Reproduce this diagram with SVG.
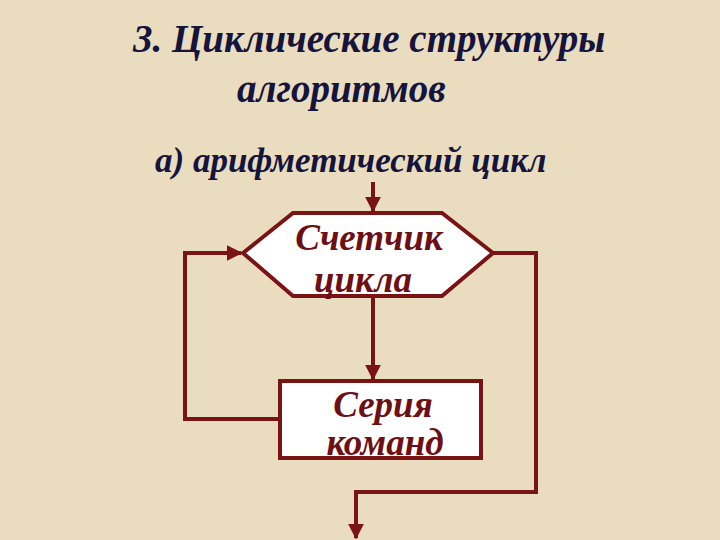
<svg xmlns="http://www.w3.org/2000/svg" width="720" height="540" viewBox="0 0 720 540">
<defs>
<style>
.t{font-family:"Liberation Serif",serif;font-weight:bold;font-style:italic;fill:#14143c}
.n{font-family:"Liberation Serif",serif;font-weight:bold;font-style:italic;fill:#6e0f14;font-size:37px;text-anchor:middle}
.s{fill:#ffffff;stroke:#7a1414;stroke-width:4}
.c{fill:none;stroke:#7a1414;stroke-width:4}
</style>
<marker id="a" viewBox="0 0 10 10" refX="9" refY="5" markerWidth="4" markerHeight="4" orient="auto"><path d="M0,0L10,5L0,10z" fill="#7a1414"/></marker>
</defs>
<rect width="720" height="540" fill="#e9dcbf"/>
<text class="t" x="133" y="52" font-size="39">3. Циклические структуры</text>
<text class="t" x="237" y="102" font-size="39">алгоритмов</text>
<text class="t" x="155" y="172" font-size="35">а) арифметический цикл</text>
<g id="connectors">
<path class="c" d="M373,182V211" marker-end="url(#a)"/>
<path class="c" d="M373,296V379" marker-end="url(#a)"/>
<path class="c" d="M280,419H185V253H241" marker-end="url(#a)"/>
<path class="c" d="M493,253H536V492H356V538" marker-end="url(#a)"/>
</g>
<g id="counter">
<polygon class="s" points="243,253 293,213 442,213 493,253 442,296 293,296"/>
<text class="n" x="369" y="250">Счетчик</text>
<text class="n" x="363" y="292">цикла</text>
</g>
<g id="series">
<rect class="s" x="280" y="381" width="201" height="77"/>
<text class="n" x="383" y="417">Серия</text>
<text class="n" x="385" y="455">команд</text>
</g>
</svg>
